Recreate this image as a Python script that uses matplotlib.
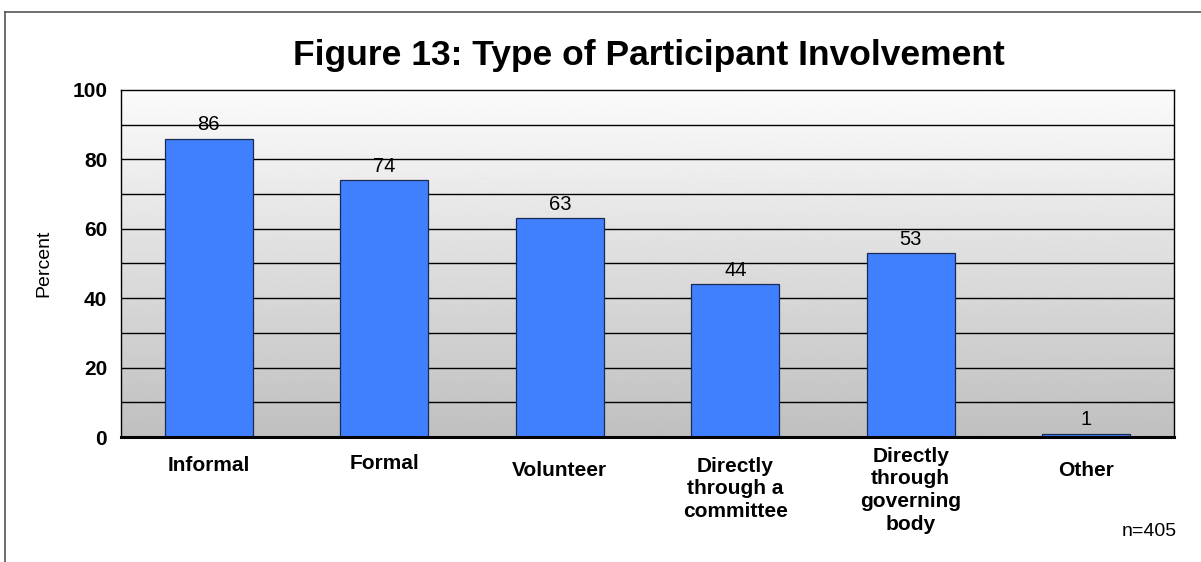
import numpy as np
import matplotlib.pyplot as plt
from matplotlib.lines import Line2D
from matplotlib.transforms import ScaledTranslation

plt.rcParams['font.family'] = ['Liberation Sans', 'DejaVu Sans']

categories = ["Informal", "Formal", "Volunteer",
              "Directly\nthrough a\ncommittee",
              "Directly\nthrough\ngoverning\nbody",
              "Other"]
percent = [86, 74, 63, 44, 53, 1]

fig = plt.figure(figsize=(12.01, 5.62), dpi=100)
ax = fig.add_axes([0.1008, 0.2224, 0.8767, 0.6175])

# gradient background: light at the top, grey at the bottom
grad = np.linspace(0.985, 0.75, 256).reshape(-1, 1)
ax.imshow(grad, cmap='gray', vmin=0, vmax=1, aspect='auto',
          extent=[-0.5, len(categories) - 0.5, 0, 100], zorder=0)

x = np.arange(len(categories))
ax.set_xlim(-0.5, len(categories) - 0.5)
ax.set_ylim(0, 100)

for g in range(10, 100, 10):
    ax.axhline(g, color='black', lw=1, zorder=1)

bars = ax.bar(x, percent, width=0.5, color='#4080FF',
              edgecolor='#1a2a50', linewidth=0.9, zorder=2)
for b, v in zip(bars, percent):
    ax.annotate(str(v), (b.get_x() + b.get_width() / 2, v),
                xytext=(0, 3), textcoords='offset points',
                ha='center', va='bottom', fontsize=14.5)

ax.set_yticks(range(0, 101, 20))
ax.set_yticklabels([str(t) for t in range(0, 101, 20)],
                   fontsize=15, fontweight='bold')
ax.set_xticks(x)
ax.set_xticklabels(categories, fontsize=15, fontweight='bold',
                   linespacing=1.25, va='top')
ax.tick_params(axis='y', length=0, pad=10)
ax.tick_params(axis='x', length=0, pad=12)

# the category labels sit at slightly different heights
shifts = [-2, 0, -7, -3, 7, -7]
for lab, dy in zip(ax.get_xticklabels(), shifts):
    lab.set_transform(lab.get_transform() +
                      ScaledTranslation(0, dy / 100, fig.dpi_scale_trans))

for s in ['top', 'right', 'left']:
    ax.spines[s].set_linewidth(1)
    ax.spines[s].set_color('black')
ax.spines['bottom'].set_linewidth(2.2)

ax.set_ylabel("Percent", fontsize=14, labelpad=14)
fig.text(0.5405, 0.901, "Figure 13: Type of Participant Involvement",
         ha='center', va='center', fontsize=25.5, fontweight='bold')
fig.text(0.98, 0.055, "n=405", ha='right', va='center', fontsize=14)

# outer chart frame
fig.add_artist(Line2D([0.0042, 1.0], [0.979, 0.979], color='#555555', lw=1.2))
fig.add_artist(Line2D([0.0042, 0.0042], [0.0, 0.979], color='#555555', lw=1.2))

fig.savefig("out.png", dpi=100)
